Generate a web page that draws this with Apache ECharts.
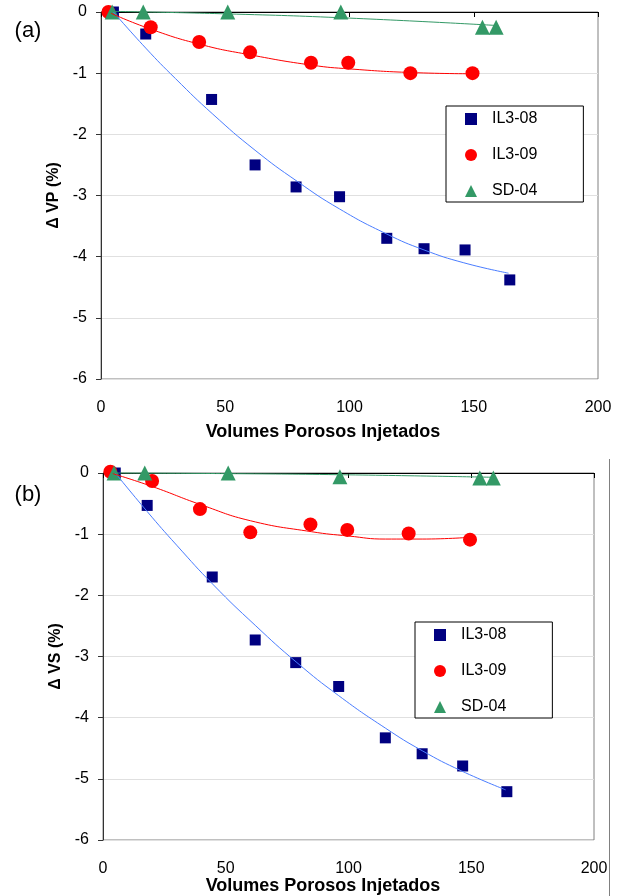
<!DOCTYPE html>
<html>
<head>
<meta charset="utf-8">
<script src="https://cdn.jsdelivr.net/npm/echarts@6/dist/echarts.min.js"></script>
<style>
    html, body {margin:0;padding:0;background:#fff}
    #main {width:622px;height:896px}
</style>
</head>
<body>
<div id="main"></div>
<script>
    // pore volumes injected (x) for each sample
    var xIL308 = [5, 18, 44.5, 62, 78.5, 96, 115, 130, 146.5, 164.5];
    var xIL309 = [3, 20, 39.5, 60, 84.5, 99.5, 124.5, 149.5];
    var xSD04 = [4.5, 17, 51, 96.5, 153.5, 159];

    // (a) delta VP (%)
    var vpIL308 = [0, -0.36, -1.43, -2.5, -2.86, -3.02, -3.70, -3.87, -3.89, -4.38];
    var vpIL309 = [0, -0.25, -0.49, -0.66, -0.83, -0.83, -1.0, -1.0];
    var vpSD04 = [0, 0, 0, 0, -0.25, -0.25];

    // (b) delta VS (%)
    var vsIL308 = [0, -0.53, -1.70, -2.73, -3.10, -3.49, -4.33, -4.59, -4.79, -5.21];
    var vsIL309 = [0.02, -0.13, -0.59, -0.97, -0.84, -0.93, -0.99, -1.09];
    var vsSD04 = [0, 0, 0, -0.06, -0.08, -0.08];

    // trend lines
    var trendX08 = [5, 18, 30, 45, 62, 79, 96, 115, 130, 146, 164];
    var vpTrend08 = [0, -0.59, -1.09, -1.67, -2.26, -2.77, -3.22, -3.63, -3.89, -4.10, -4.27];
    var vsTrend08 = [0, -0.63, -1.18, -1.83, -2.49, -3.10, -3.64, -4.17, -4.54, -4.87, -5.18];
    var vpTrendX09 = [4, 20, 40, 60, 85, 100, 125, 150];
    var vpTrend09 = [-0.02, -0.28, -0.53, -0.70, -0.87, -0.93, -0.99, -1.01];
    var vsTrendX09 = [4, 20, 40, 60, 85, 100, 115, 130, 150];
    var vsTrend09 = [-0.01, -0.22, -0.52, -0.78, -0.96, -1.03, -1.08, -1.08, -1.05];
    var trendXSD = [5, 50, 100, 159];
    var vpTrendSD = [0.01, -0.03, -0.10, -0.22];
    var vsTrendSD = [0, -0.01, -0.03, -0.07];

    var seriesNames = ['IL3-08', 'IL3-09', 'SD-04'];

    var FONT = '"Liberation Sans", Arial, sans-serif';
    var NAVY = '#000080', RED = '#ff0000', GREEN = '#339966', BLUE_LINE = '#4a7dff';

    function pairs(xs, ys) {
        var out = [];
        for (var i = 0; i < xs.length; i++) out.push([xs[i], ys[i]]);
        return out;
    }

    function topAxis(gi) {
        return {
            type: 'value', gridIndex: gi, position: 'top', min: 0, max: 200, interval: 50,
            axisLine: {show: true, onZero: false, lineStyle: {color: '#000', width: 1}},
            axisTick: {show: true, inside: true, length: 5, lineStyle: {color: '#000'}},
            axisLabel: {show: false},
            splitLine: {show: false}
        };
    }
    function bottomAxis(gi) {
        return {
            type: 'value', gridIndex: gi, position: 'bottom', min: 0, max: 200, interval: 50,
            axisLine: {show: false},
            axisTick: {show: false},
            axisLabel: {show: true, margin: 21, fontSize: 16, color: '#000', fontFamily: FONT},
            splitLine: {show: false}
        };
    }
    function leftAxis(gi, name) {
        return {
            type: 'value', gridIndex: gi, min: -6, max: 0, interval: 1,
            name: name, nameLocation: 'middle', nameGap: 35,
            nameTextStyle: {fontSize: 16, fontWeight: 'bold', color: '#000', fontFamily: FONT},
            axisLine: {show: true, onZero: false, lineStyle: {color: '#333', width: 1}},
            axisTick: {show: true, length: 5, lineStyle: {color: '#333'}},
            axisLabel: {fontSize: 16, color: '#000', margin: 14, fontFamily: FONT},
            splitLine: {show: true, lineStyle: {color: '#e0e0e0', width: 1}}
        };
    }
    function legendBox(left, top) {
        return {
            data: seriesNames, orient: 'vertical', left: left, top: top,
            padding: [5, 46, 3, 19], itemGap: 20, itemWidth: 12, itemHeight: 12,
            borderColor: '#000', borderWidth: 1, backgroundColor: '#fff',
            textStyle: {fontSize: 16, color: '#000', fontFamily: FONT, padding: [0, 0, 0, 10], lineHeight: 16},
            selectedMode: false
        };
    }
    function scatter(name, xi, yi, xs, ys, symbol, size, color) {
        return {
            name: name, type: 'scatter', xAxisIndex: xi, yAxisIndex: yi,
            data: pairs(xs, ys), symbol: symbol, symbolSize: size, clip: false,
            itemStyle: {color: color, opacity: 1}, z: 3
        };
    }
    function trend(xi, yi, xs, ys, color) {
        return {
            type: 'line', xAxisIndex: xi, yAxisIndex: yi, data: pairs(xs, ys),
            symbol: 'none', smooth: true, clip: false,
            lineStyle: {color: color, width: 1}, z: 4, silent: true
        };
    }

    var chart = echarts.init(document.getElementById('main'));
    var option = {
        animation: false,
        backgroundColor: '#fff',
        grid: [
            {left: 101, top: 12, width: 497, height: 367, show: true, borderColor: '#808080', borderWidth: 1, backgroundColor: 'transparent'},
            {left: 103, top: 473, width: 491, height: 367, show: true, borderColor: '#808080', borderWidth: 1, backgroundColor: 'transparent'}
        ],
        xAxis: [topAxis(0), bottomAxis(0), topAxis(1), bottomAxis(1)],
        yAxis: [leftAxis(0, '\u0394 VP (%)'), leftAxis(1, '\u0394 VS (%)')],
        legend: [legendBox(446, 106), legendBox(415, 622)],
        series: [
            scatter('IL3-08', 0, 0, xIL308, vpIL308, 'rect', 11, NAVY),
            scatter('IL3-09', 0, 0, xIL309, vpIL309, 'circle', 14, RED),
            scatter('SD-04', 0, 0, xSD04, vpSD04, 'triangle', 15, GREEN),
            trend(0, 0, trendX08, vpTrend08, BLUE_LINE),
            trend(0, 0, vpTrendX09, vpTrend09, RED),
            trend(0, 0, trendXSD, vpTrendSD, GREEN),

            scatter('IL3-08', 2, 1, xIL308, vsIL308, 'rect', 11, NAVY),
            scatter('IL3-09', 2, 1, xIL309, vsIL309, 'circle', 14, RED),
            scatter('SD-04', 2, 1, xSD04, vsSD04, 'triangle', 15, GREEN),
            trend(2, 1, trendX08, vsTrend08, BLUE_LINE),
            trend(2, 1, vsTrendX09, vsTrend09, RED),
            trend(2, 1, trendXSD, vsTrendSD, GREEN)
        ],
        graphic: [
            {type: 'text', x: 28, y: 31, style: {text: '(a)', align: 'center', verticalAlign: 'middle', fontSize: 22, fontFamily: FONT, fill: '#000'}},
            {type: 'text', x: 28, y: 495, style: {text: '(b)', align: 'center', verticalAlign: 'middle', fontSize: 22, fontFamily: FONT, fill: '#000'}},
            {type: 'text', x: 323, y: 432, style: {text: 'Volumes Porosos Injetados', align: 'center', verticalAlign: 'middle', fontSize: 18, fontWeight: 'bold', fontFamily: FONT, fill: '#000'}},
            {type: 'text', x: 323, y: 886, style: {text: 'Volumes Porosos Injetados', align: 'center', verticalAlign: 'middle', fontSize: 18, fontWeight: 'bold', fontFamily: FONT, fill: '#000'}},
            {type: 'line', shape: {x1: 609.5, y1: 459, x2: 609.5, y2: 896}, style: {stroke: '#808080', lineWidth: 1}}
        ]
    };
    chart.setOption(option);
</script>
</body>
</html>
